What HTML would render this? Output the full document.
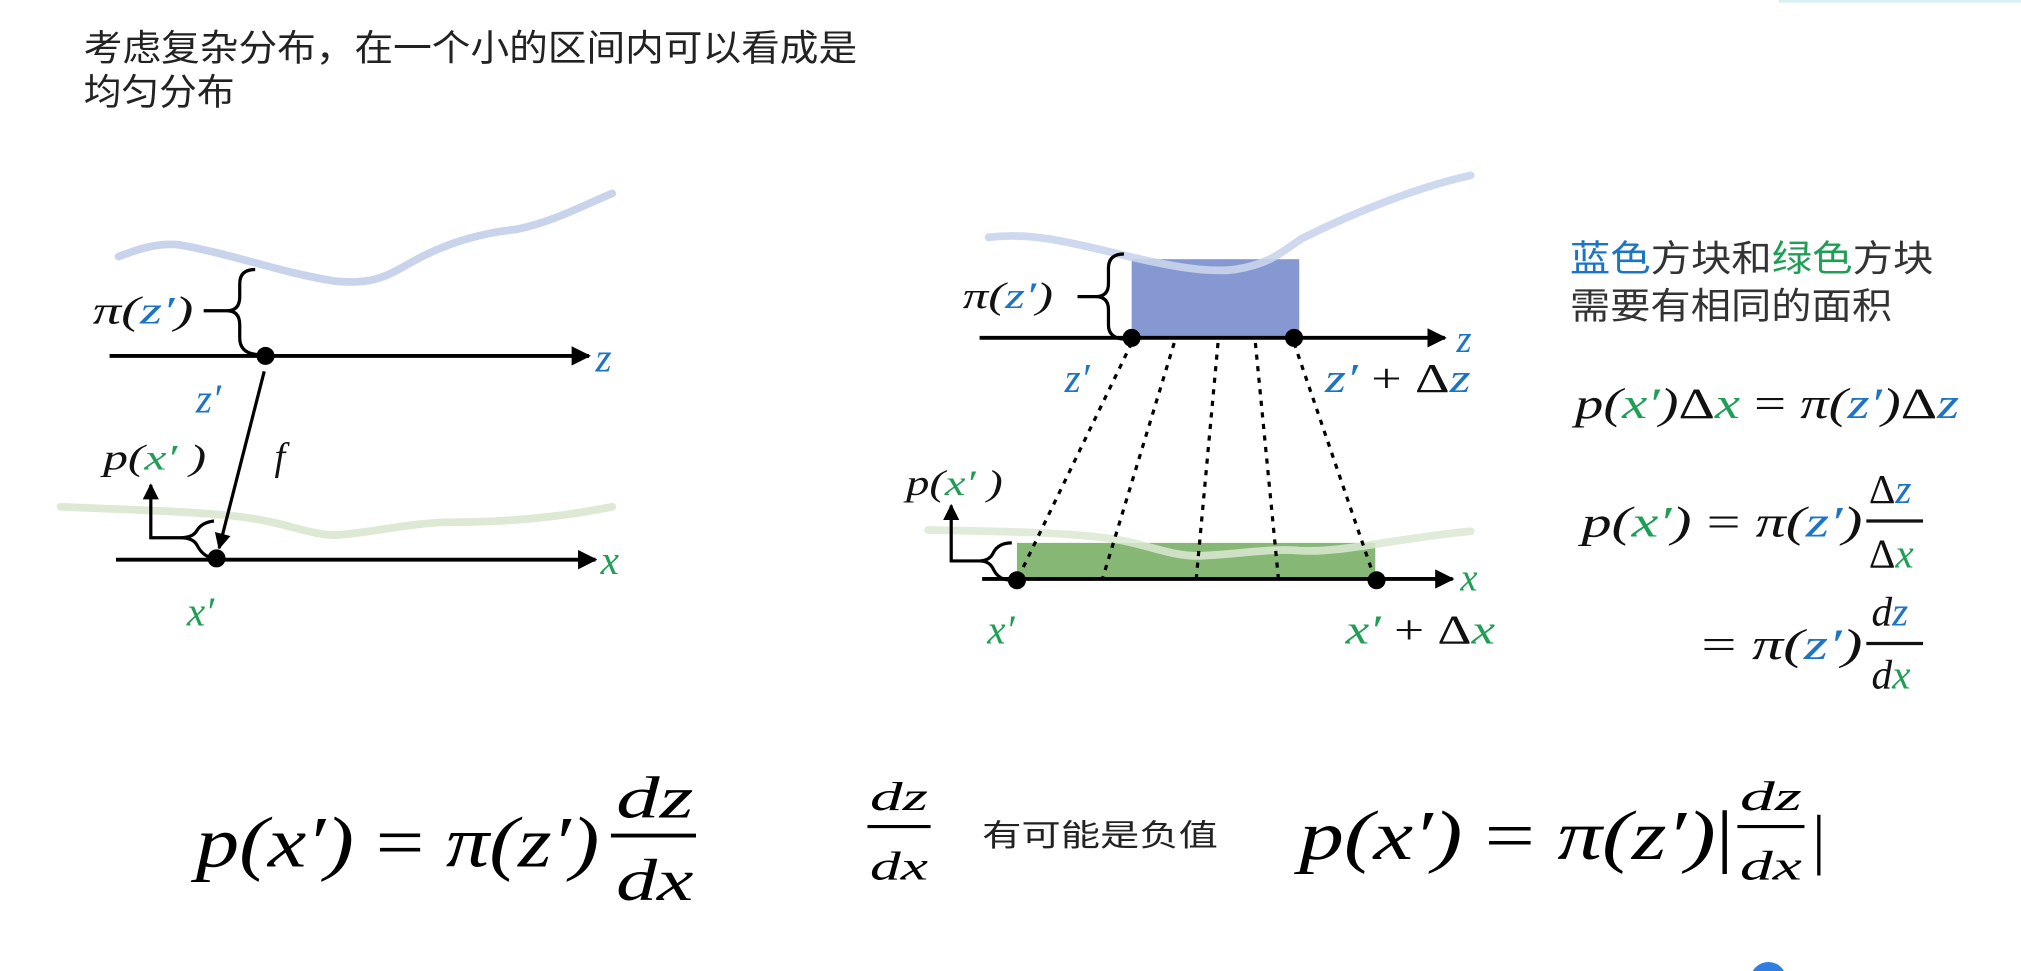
<!DOCTYPE html>
<html><head><meta charset="utf-8"><style>
html,body{margin:0;padding:0;background:#fff;width:2021px;height:971px;overflow:hidden}
svg{display:block}
.m{font-family:"Liberation Serif",serif;font-style:italic}
.cn{font-family:"Liberation Sans","Noto Sans CJK SC",sans-serif}
</style></head><body>
<svg width="2021" height="971" viewBox="0 0 1568 753" preserveAspectRatio="none" xmlns="http://www.w3.org/2000/svg">
<defs>
<marker id="ah" viewBox="0 0 10 10" refX="9" refY="5" markerWidth="5" markerHeight="5" orient="auto"><path d="M0,0L10,5L0,10z" fill="#000"/></marker>
</defs>
<rect width="1568" height="753" fill="#fff"/>
<line x1="1380" y1="1" x2="1568" y2="1" stroke="#d8f0f4" stroke-width="2"/>
<text class="cn" x="65" y="47" font-size="28" fill="#222" textLength="600" lengthAdjust="spacingAndGlyphs">考虑复杂分布，在一个小的区间内可以看成是</text>
<text class="cn" x="65" y="81" font-size="28" fill="#222" textLength="117" lengthAdjust="spacingAndGlyphs">均匀分布</text>

<!-- LEFT DIAGRAM -->
<path d="M92,199 C110,192 125,188 140,190 C180,197 220,212 260,218 C290,221 300,214 320,203 C350,186 380,180 400,178 C430,172 455,158 475,150" fill="none" stroke="#c9d4ec" stroke-width="6" stroke-linecap="round"/>
<path d="M47,393 C90,395 140,396 180,400 C220,404 240,415 260,415 C290,413 320,405 350,405 C400,405 440,400 475,393" fill="none" stroke="#dde9d5" stroke-width="6" stroke-linecap="round"/>
<line x1="85" y1="276" x2="457" y2="276" stroke="#000" stroke-width="3" marker-end="url(#ah)"/>
<text class="m" x="462" y="288" font-size="32" fill="#1b74c4">z</text>
<path d="M198,209 Q186,209 186,220 L186,230 Q186,241 176,241 L158,241 M176,241 Q186,241 186,252 L186,262 Q186,274 200,275" fill="none" stroke="#000" stroke-width="2.5"/>
<text class="m" x="72" y="251" font-size="30" fill="#111" textLength="78" lengthAdjust="spacingAndGlyphs">π(<tspan fill="#1b74c4">z′</tspan>)</text>
<circle cx="206" cy="276" r="7" fill="#000"/>
<text class="m" x="152" y="320" font-size="32" fill="#1b74c4">z′</text>
<line x1="205" y1="288" x2="170" y2="425" stroke="#000" stroke-width="2.5" marker-end="url(#ah)"/>
<text class="m" x="213" y="364" font-size="30" fill="#111">f</text>
<line x1="90" y1="434" x2="462" y2="434" stroke="#000" stroke-width="3" marker-end="url(#ah)"/>
<text class="m" x="466" y="445" font-size="32" fill="#1f9e55">x</text>
<circle cx="168" cy="433" r="7" fill="#000"/>
<text class="m" x="80" y="364" font-size="28" fill="#111" textLength="80" lengthAdjust="spacingAndGlyphs">p(<tspan fill="#1f9e55">x′</tspan> )</text>
<path d="M117,418 L117,376" stroke="#000" stroke-width="2.5" marker-end="url(#ah)"/>
<path d="M116,417 L140,417 Q150,417 153,411 Q157,405 166,404 M140,417 Q150,417 153,423 Q157,431 165,433" fill="none" stroke="#000" stroke-width="2.5"/>
<text class="m" x="145" y="485" font-size="32" fill="#1f9e55">x′</text>

<!-- MIDDLE DIAGRAM -->
<rect x="878" y="201" width="130" height="60" fill="#8698d2"/>
<path d="M767,184 C800,180 830,188 864,196 C900,205 935,212 958,209 C985,205 995,195 1010,185 C1050,165 1100,145 1141,136" fill="none" stroke="#c9d4ec" stroke-width="6" stroke-linecap="round" opacity="0.9"/>
<rect x="789" y="421" width="278" height="29" fill="#86b775"/>
<path d="M720,411 C780,412 830,413 864,418 C890,422 910,432 931,431 C960,430 985,425 1008,427 C1040,429 1080,418 1141,412" fill="none" stroke="#dbe9d2" stroke-width="6" stroke-linecap="round" opacity="0.85"/>
<g stroke="#000" stroke-width="2.5" stroke-dasharray="4,5">
<line x1="878" y1="266" x2="789" y2="450"/>
<line x1="911" y1="266" x2="855" y2="450"/>
<line x1="945" y1="266" x2="928" y2="450"/>
<line x1="974" y1="266" x2="992" y2="450"/>
<line x1="1004" y1="266" x2="1067" y2="450"/>
</g>
<line x1="760" y1="262" x2="1121" y2="262" stroke="#000" stroke-width="3" marker-end="url(#ah)"/>
<text class="m" x="1130" y="273" font-size="30" fill="#1b74c4">z</text>
<circle cx="878" cy="262" r="7" fill="#000"/>
<circle cx="1004" cy="262" r="7" fill="#000"/>
<path d="M872,197 Q860,197 860,208 L860,220 Q860,230 850,230 L836,230 M850,230 Q860,230 860,240 L860,252 Q860,262 872,263" fill="none" stroke="#000" stroke-width="2.5"/>
<text class="m" x="747" y="239" font-size="29" fill="#111" textLength="70" lengthAdjust="spacingAndGlyphs">π(<tspan fill="#1b74c4">z′</tspan>)</text>
<text class="m" x="826" y="304" font-size="32" fill="#1b74c4">z′</text>
<text class="m" x="1028" y="304" font-size="32" fill="#1b74c4" textLength="113" lengthAdjust="spacingAndGlyphs">z′ <tspan fill="#111" font-style="normal">+ Δ</tspan>z</text>
<line x1="762" y1="449" x2="1127" y2="449" stroke="#000" stroke-width="3" marker-end="url(#ah)"/>
<text class="m" x="1133" y="458" font-size="30" fill="#1f9e55">x</text>
<circle cx="789" cy="450" r="7" fill="#000"/>
<circle cx="1068" cy="450" r="7" fill="#000"/>
<text class="m" x="703" y="384" font-size="28" fill="#111" textLength="75" lengthAdjust="spacingAndGlyphs">p(<tspan fill="#1f9e55">x′</tspan> )</text>
<path d="M738,436 L738,392" stroke="#000" stroke-width="2.5" marker-end="url(#ah)"/>
<path d="M737,435 L760,435 Q768,435 771,428 Q775,421 785,421 M760,435 Q768,435 771,442 Q775,450 785,450" fill="none" stroke="#000" stroke-width="2.5"/>
<text class="m" x="766" y="499" font-size="32" fill="#1f9e55">x′</text>
<text class="m" x="1044" y="499" font-size="32" fill="#1f9e55" textLength="116" lengthAdjust="spacingAndGlyphs">x′ <tspan fill="#111" font-style="normal">+ Δ</tspan>x</text>

<!-- RIGHT TEXT -->
<text class="cn" x="1218" y="210" font-size="28" fill="#333" textLength="282" lengthAdjust="spacingAndGlyphs"><tspan fill="#1b74c4">蓝色</tspan>方块和<tspan fill="#1f9e55">绿色</tspan>方块</text>
<text class="cn" x="1218" y="247" font-size="28" fill="#333" textLength="250" lengthAdjust="spacingAndGlyphs">需要有相同的面积</text>
<text class="m" x="1222" y="324" font-size="34" fill="#111" textLength="298" lengthAdjust="spacingAndGlyphs">p(<tspan fill="#1f9e55">x′</tspan>)<tspan font-style="normal">Δ</tspan><tspan fill="#1f9e55">x</tspan><tspan font-style="normal"> = </tspan>π(<tspan fill="#1b74c4">z′</tspan>)<tspan font-style="normal">Δ</tspan><tspan fill="#1b74c4">z</tspan></text>
<text class="m" x="1227" y="416" font-size="34" fill="#111" textLength="218" lengthAdjust="spacingAndGlyphs">p(<tspan fill="#1f9e55">x′</tspan>)<tspan font-style="normal"> = </tspan>π(<tspan fill="#1b74c4">z′</tspan>)</text>
<text class="m" x="1450" y="390" font-size="32" fill="#111"><tspan font-style="normal">Δ</tspan><tspan fill="#1b74c4">z</tspan></text>
<line x1="1448" y1="404" x2="1492" y2="404" stroke="#111" stroke-width="2.5"/>
<text class="m" x="1450" y="440" font-size="32" fill="#111"><tspan font-style="normal">Δ</tspan><tspan fill="#1f9e55">x</tspan></text>
<text class="m" x="1320" y="511" font-size="34" fill="#111" textLength="125" lengthAdjust="spacingAndGlyphs"><tspan font-style="normal">= </tspan>π(<tspan fill="#1b74c4">z′</tspan>)</text>
<text class="m" x="1452" y="485" font-size="32" fill="#111">d<tspan fill="#1b74c4">z</tspan></text>
<line x1="1448" y1="499" x2="1492" y2="499" stroke="#111" stroke-width="2.5"/>
<text class="m" x="1452" y="534" font-size="32" fill="#111">d<tspan fill="#1f9e55">x</tspan></text>

<!-- BOTTOM FORMULAS -->
<text class="m" x="152" y="672" font-size="56" fill="#000" textLength="313" lengthAdjust="spacingAndGlyphs">p(x′)<tspan font-style="normal"> = </tspan>π(z′)</text>
<text class="m" x="478" y="634" font-size="46" fill="#000" textLength="60" lengthAdjust="spacingAndGlyphs">dz</text>
<line x1="474" y1="648" x2="540" y2="648" stroke="#000" stroke-width="3"/>
<text class="m" x="478" y="698" font-size="46" fill="#000" textLength="60" lengthAdjust="spacingAndGlyphs">dx</text>
<text class="m" x="675" y="628" font-size="31" fill="#000" textLength="45" lengthAdjust="spacingAndGlyphs">dz</text>
<line x1="673" y1="641" x2="722" y2="641" stroke="#000" stroke-width="2.5"/>
<text class="m" x="675" y="682" font-size="31" fill="#000" textLength="45" lengthAdjust="spacingAndGlyphs">dx</text>
<text class="cn" x="762" y="656" font-size="24" fill="#222" textLength="183" lengthAdjust="spacingAndGlyphs">有可能是负值</text>
<text class="m" x="1008" y="666" font-size="54" fill="#000" textLength="337" lengthAdjust="spacingAndGlyphs">p(x′)<tspan font-style="normal"> = </tspan>π(z′)<tspan font-style="normal">|</tspan></text>
<text class="m" x="1350" y="628" font-size="32" fill="#000" textLength="48" lengthAdjust="spacingAndGlyphs">dz</text>
<line x1="1348" y1="641" x2="1400" y2="641" stroke="#000" stroke-width="2.5"/>
<text class="m" x="1350" y="682" font-size="32" fill="#000" textLength="48" lengthAdjust="spacingAndGlyphs">dx</text>
<text x="1406" y="668" font-size="52" font-family="Liberation Serif,serif" fill="#000">|</text>
<circle cx="1372" cy="760" r="14" fill="#2f7fe0"/>
</svg>
</body></html>
